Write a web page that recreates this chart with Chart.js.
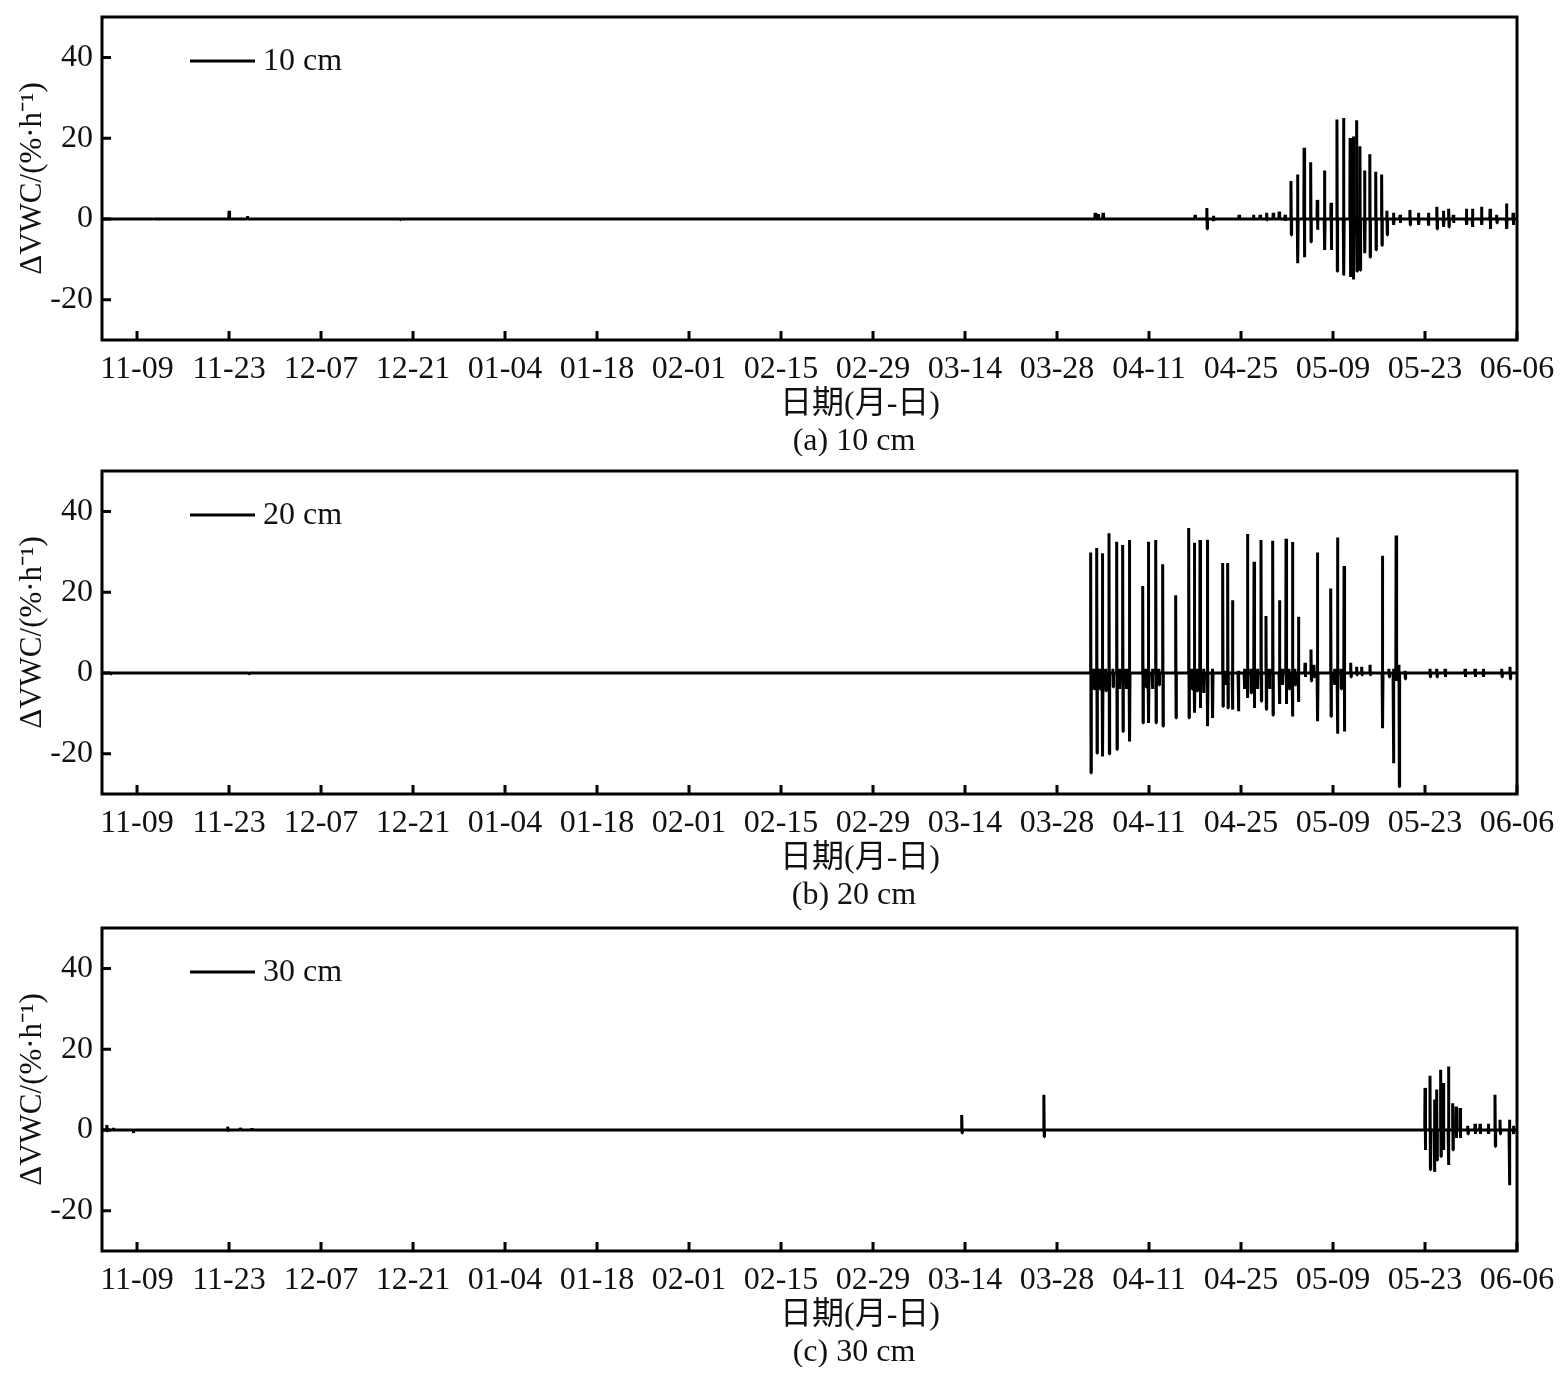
<!DOCTYPE html>
<html>
<head>
<meta charset="utf-8">
<script src="https://cdn.jsdelivr.net/npm/chart.js@4.4.0/dist/chart.umd.min.js"></script>
<style>
  body { margin: 0; background: #fff; }
  .panel { position: absolute; left: 0; width: 1561px; height: 456px; }
</style>
</head>
<body>
<div class="panel" style="top:0px"><canvas id="c10" width="1561" height="456"></canvas></div>
<div class="panel" style="top:454px"><canvas id="c20" width="1561" height="456"></canvas></div>
<div class="panel" style="top:911px"><canvas id="c30" width="1561" height="456"></canvas></div>
<script>
// x values are days counted from 2019-11-09
const tickLabels = ['11-09', '11-23', '12-07', '12-21', '01-04', '01-18', '02-01', '02-15',
  '02-29', '03-14', '03-28', '04-11', '04-25', '05-09', '05-23', '06-06'];
const yTickValues = [-20, 0, 20, 40];

// 10 cm : spike positions (day) with upper and lower extreme
const days10 = [-3.0, 2.5, 14.0, 16.8, 40, 145.8, 146.3, 147.0, 161.0, 162.8, 163.8, 167.7, 169.9,
  170.9, 171.9, 172.9, 173.8, 174.7, 175.6, 176.6, 177.6, 178.6, 179.6, 180.7, 181.7, 182.6, 183.6,
  184.6, 185.1, 185.6, 186.1, 186.8, 187.6, 188.5, 189.4, 190.2, 191.2, 192.2, 193.7, 195.0, 196.5,
  197.8, 198.8, 199.6, 200.3, 202.3, 203.2, 204.6, 205.9, 206.9, 208.4, 209.4];
const up10 = [0.2, 0.3, 2.0, 0.7, 0.3, 1.5, 1.2, 1.5, 1.0, 2.7, 0.8, 1.0, 1.0,
  1.0, 1.5, 1.5, 1.8, 1.0, 9.4, 11, 17.6, 14, 4.7, 12, 4, 24.6, 25,
  20, 20.4, 24.4, 18, 12, 16, 11.7, 11, 2, 1.5, 1, 2.2, 1.5, 1.5,
  3, 2, 2.5, 1, 2.5, 2.5, 3, 2.5, 1, 3.8, 1.5];
const down10 = [-0.3, -0.2, -0.2, -0.2, -0.2, -0.3, -0.3, -0.3, -0.3, -2.5, -0.5, -0.3, -0.3,
  -0.3, -0.3, -0.3, -0.3, -0.5, -4, -11, -9.5, -5.7, -2.7, -7.7, -7.7, -13, -14,
  -14.4, -15, -13, -12.7, -8.5, -9.5, -7.7, -6.6, -4, -1.5, -1, -1.5, -1.5, -1.7,
  -2.5, -2, -2, -1, -1.5, -2, -1.5, -2.5, -1, -2.5, -1.5];

// 20 cm
const days20 = [-4.0, 17.0, 145.12, 145.6, 146.04, 146.5, 146.9, 147.4, 147.91, 148.5, 149.08, 149.5,
  149.99, 150.5, 151.01, 153.04, 153.5, 153.9, 154.5, 155.02, 155.5, 156.08, 158.06, 160.04, 160.5,
  160.9, 161.3, 161.76, 162.3, 162.88, 163.64, 165.21, 165.6, 165.97, 166.68, 167.59, 168.5, 168.96,
  169.5, 169.98, 170.5, 171.04, 171.8, 172.3, 172.82, 173.83, 174.3, 174.85, 175.3, 175.81, 176.2,
  176.72, 177.74, 178.65, 179.1, 179.62, 181.65, 182.2, 182.66, 183.2, 183.68, 184.69, 185.6, 186.36,
  187.63, 189.51, 190.5, 191.18, 191.6, 192.04, 192.95, 196.76, 197.78, 199.05, 202.09, 203.61,
  204.88, 207.67, 208.93];
const up20 = [0.2, 0.2, 29.8, 1, 30.9, 1, 29.6, 1, 34.6, 1, 32.5, 1,
  31.7, 1, 32.9, 21.5, 1, 32.5, 1, 32.9, 1, 26.9, 19.2, 35.9, 1,
  32.2, 1, 32.9, 1, 33, 1, 27.2, 0.5, 27.2, 18, 0.5, 1, 34.4,
  1, 27.5, 1, 32.9, 14.1, 1, 32.7, 18, 1, 33.2, 1, 32.4, 1,
  13.9, 2.5, 5.8, 2, 29.8, 20.9, 1, 33.5, 1, 26.5, 2.5, 1.5, 1.5,
  2, 29, 1, 1, 34, 2, 0.5, 1, 1, 1, 1, 1,
  1, 1, 1.5];
const down20 = [-0.3, -0.3, -24.8, -4, -19.9, -4, -20.7, -4.5, -20.1, -3.5, -19, -4,
  -14.5, -4, -17, -12.4, -3.5, -12.4, -4, -12.4, -3, -13.2, -11.2, -11.2, -4,
  -9.9, -4.5, -8.7, -5, -13.2, -11.2, -8.3, -3, -8.7, -9.1, -9.5, -4, -6.2,
  -5, -8.7, -4, -7, -9.1, -4, -10.5, -7.7, -3, -7.7, -4, -10.8, -3,
  -7.2, -1, -2, -1, -12, -10.8, -3, -15.1, -4, -14.5, -1, -0.5, -0.5,
  -0.5, -13.7, -1, -22.4, -2, -28.2, -1.5, -1, -1, -1, -1, -1,
  -1, -1, -1.5];

// 30 cm
const days30 = [-4.6, -3.6, -0.6, 13.8, 15.7, 17.5, 125.5, 138.0, 196.0, 196.76, 197.42, 197.78,
  198.38, 198.79, 199.55, 200.21, 200.72, 201.33, 202.5, 203.61, 204.37, 205.64, 206.65, 207.41,
  208.83, 209.44];
const up30 = [1.2, 0.5, 0.2, 0.8, 0.5, 0.4, 3.7, 8.7, 10.4, 13.4, 7.5, 10,
  14.9, 11.6, 15.7, 6.6, 5.8, 5.4, 1, 1.5, 1.5, 1.5, 8.7, 2.5,
  2.5, 1];
const down30 = [-0.3, -0.3, -0.8, -0.2, -0.2, -0.2, -0.8, -1.7, -5, -9.9, -10.4, -7.5,
  -6.6, -5, -8.7, -5, -2, -2, -1, -1, -1, -1, -4.1, -1,
  -13.7, -1];

const X_MIN = -5.33, X_MAX = 210;

function buildLine(days, ups, downs) {
  const pts = [{ x: X_MIN, y: 0 }];
  days.forEach((d, i) => {
    pts.push({ x: d - 0.04, y: 0 }, { x: d, y: ups[i] }, { x: d + 0.06, y: downs[i] }, { x: d + 0.1, y: 0 });
  });
  pts.push({ x: X_MAX, y: 0 });
  return pts;
}

const SERIF = '"Liberation Serif", "Times New Roman", "Noto Sans CJK SC", serif';
Chart.defaults.color = '#111';
Chart.defaults.font.family = SERIF;

const framePlugin = {
  id: 'frame',
  afterDraw(chart) {
    const { ctx, chartArea: a, scales } = chart;
    const opts = chart.options.plugins.frame;
    ctx.save();
    ctx.strokeStyle = '#000';
    ctx.lineWidth = 3;
    ctx.strokeRect(a.left, a.top, a.right - a.left, a.bottom - a.top);
    ctx.beginPath();
    scales.x.ticks.forEach(t => {
      const px = scales.x.getPixelForValue(t.value);
      ctx.moveTo(px, a.bottom);
      ctx.lineTo(px, a.bottom - 9);
    });
    scales.y.ticks.forEach(t => {
      const py = scales.y.getPixelForValue(t.value);
      ctx.moveTo(a.left, py);
      ctx.lineTo(a.left + 9, py);
    });
    // legend line inside the plot
    const ly = a.top + 44;
    ctx.moveTo(a.left + 88, ly);
    ctx.lineTo(a.left + 153, ly);
    ctx.stroke();
    ctx.fillStyle = '#111';
    ctx.textBaseline = 'middle';
    ctx.font = '32px ' + SERIF;
    ctx.fillText(chart.data.datasets[0].label, a.left + 161, ly + 1);
    // axis title and caption under the plot
    ctx.textAlign = 'center';
    ctx.fillText(opts.xTitle, 860, a.top + 388);
    ctx.fillText(opts.caption, 854, a.top + 425);
    ctx.restore();
  }
};

function makeChart(id, label, caption, days, ups, downs) {
  return new Chart(document.getElementById(id), {
    type: 'line',
    data: {
      datasets: [{
        label: label,
        data: buildLine(days, ups, downs),
        borderColor: '#000',
        borderWidth: 3,
        borderJoinStyle: 'bevel',
        pointRadius: 0,
        tension: 0,
        fill: false
      }]
    },
    options: {
      responsive: false,
      animation: false,
      devicePixelRatio: 1,
      layout: { padding: { top: 17, right: 44, bottom: 0, left: 0 } },
      plugins: {
        legend: { display: false },
        tooltip: { enabled: false },
        title: { display: false },
        frame: { xTitle: '日期(月-日)', caption: caption }
      },
      scales: {
        x: {
          type: 'linear',
          min: X_MIN,
          max: X_MAX,
          afterBuildTicks: s => { s.ticks = tickLabels.map((t, i) => ({ value: i * 14 })); },
          afterFit: s => { s.height = 116; s.paddingLeft = 0; s.paddingRight = 0; },
          grid: { display: false, drawTicks: false },
          border: { display: false },
          ticks: {
            autoSkip: false,
            maxRotation: 0,
            padding: 10,
            font: { size: 32 },
            callback: (v, i) => tickLabels[i]
          }
        },
        y: {
          min: -30,
          max: 50,
          afterBuildTicks: s => { s.ticks = yTickValues.map(v => ({ value: v })); },
          afterFit: s => { s.width = 102; s.paddingTop = 0; s.paddingBottom = 0; },
          grid: { display: false, drawTicks: false },
          border: { display: false },
          ticks: { padding: 9, font: { size: 32 } },
          title: {
            display: true,
            text: 'ΔVWC/(%·h⁻¹)',
            font: { size: 31 },
            padding: { top: 14, bottom: 0 }
          }
        }
      }
    },
    plugins: [framePlugin]
  });
}

makeChart('c10', '10 cm', '(a) 10 cm', days10, up10, down10);
makeChart('c20', '20 cm', '(b) 20 cm', days20, up20, down20);
makeChart('c30', '30 cm', '(c) 30 cm', days30, up30, down30);
</script>
</body>
</html>
